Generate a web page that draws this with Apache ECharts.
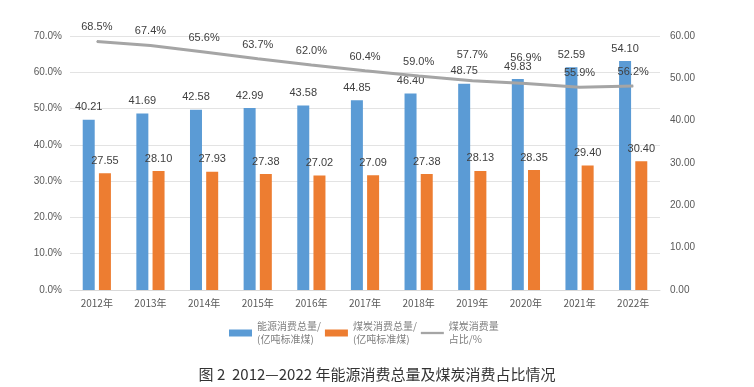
<!DOCTYPE html>
<html><head><meta charset="utf-8">
<script src="https://cdn.jsdelivr.net/npm/echarts@6/dist/echarts.min.js"></script>
<style>html,body{margin:0;padding:0;background:#fff}#c{width:754px;height:387px}</style>
</head><body><div id="c"></div>
<script>
const categories = ['2012年','2013年','2014年','2015年','2016年','2017年','2018年','2019年','2020年','2021年','2022年'];
const energyTotal = [40.21,41.69,42.58,42.99,43.58,44.85,46.40,48.75,49.83,52.59,54.10];
const coalTotal = [27.55,28.10,27.93,27.38,27.02,27.09,27.38,28.13,28.35,29.40,30.40];
const coalShare = [68.5,67.4,65.6,63.7,62.0,60.4,59.0,57.7,56.9,55.9,56.2];
const seriesNames = ['能源消费总量/\n(亿吨标准煤)','煤炭消费总量/\n(亿吨标准煤)','煤炭消费量\n占比/%'];
const titleText = '图 2  2012—2022 年能源消费总量及煤炭消费占比情况';

const chart = echarts.init(document.getElementById('c'));
const txt = '#595959';
chart.setOption({
  animation:false,
  title:{text:titleText,left:'center',bottom:0,textStyle:{fontSize:15,fontWeight:'normal',color:'#333',fontFamily:'Noto Sans CJK SC'}},
  grid:{left:70,right:94,top:36,bottom:97},
  legend:{bottom:36,left:224,itemWidth:23,itemHeight:7,itemGap:4,
    textStyle:{fontSize:10,color:'#7f7f7f',lineHeight:13,fontFamily:'Noto Sans CJK SC'},
    data:[{name:seriesNames[0],icon:'rect'},{name:seriesNames[1],icon:'rect'},
          {name:seriesNames[2],icon:'path://M0,0 L30,0 L30,3 L0,3Z'}]},
  xAxis:{type:'category',data:categories,axisTick:{show:false},
    axisLine:{lineStyle:{color:'#d9d9d9'}},
    axisLabel:{color:txt,fontSize:10,margin:8,fontFamily:'Noto Sans CJK SC'}},
  yAxis:[
    {type:'value',min:0,max:70,interval:10,axisLabel:{color:txt,fontSize:10,formatter:v=>v.toFixed(1)+'%'},
     splitLine:{lineStyle:{color:'#e3e3e3'}},axisLine:{show:false}},
    {type:'value',min:0,max:60,interval:10,axisLabel:{color:txt,fontSize:10,formatter:v=>v.toFixed(2),margin:10},
     splitLine:{show:false},axisLine:{show:false}}
  ],
  series:[
    {name:seriesNames[0],type:'bar',yAxisIndex:1,data:energyTotal,barWidth:12,barGap:'35%',
     itemStyle:{color:'#5B9BD5'},
     label:{show:true,position:'top',distance:7,color:'#404040',fontSize:11,formatter:p=>p.value.toFixed(2)}},
    {name:seriesNames[1],type:'bar',yAxisIndex:1,data:coalTotal,barWidth:12,
     itemStyle:{color:'#ED7D31'},
     label:{show:true,position:'top',distance:7,color:'#404040',fontSize:11,formatter:p=>p.value.toFixed(2)}},
    {name:seriesNames[2],type:'line',yAxisIndex:0,
     data:coalShare.map((v,i)=>(i===7||i===8)?{value:v,label:{distance:20}}:v),
     symbol:'circle',symbolSize:1,showSymbol:true,lineStyle:{color:'#A5A5A5',width:3},itemStyle:{color:'#A5A5A5'},z:5,
     labelLayout:{hideOverlap:false},
     label:{show:true,position:'top',distance:8,color:'#404040',fontSize:11,formatter:p=>p.value.toFixed(1)+'%'}}
  ]
});
</script></body></html>
